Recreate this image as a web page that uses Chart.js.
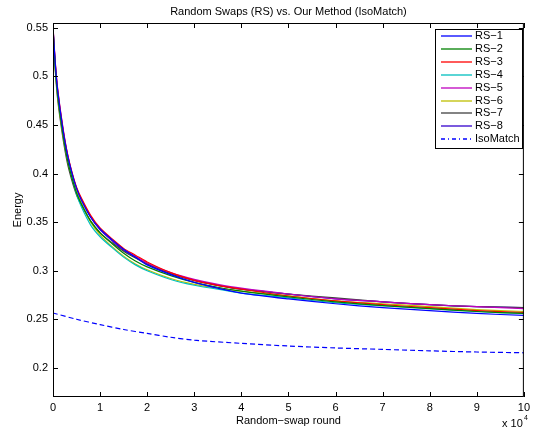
<!DOCTYPE html>
<html>
<head>
<meta charset="utf-8">
<script src="https://cdn.jsdelivr.net/npm/chart.js@4.4.0/dist/chart.umd.min.js"></script>
<style>
  html, body { margin: 0; padding: 0; background: #fff; }
  #wrap { width: 534px; height: 431px; }
</style>
</head>
<body>
<div id="wrap"><canvas id="energyChart" width="534" height="431"></canvas></div>
<script>
// rounds (x 10^4)
const rounds = [0, 0.05, 0.1, 0.2, 0.3, 0.4, 0.5, 0.6, 0.8, 1, 1.25, 1.5, 1.75, 2, 2.5, 3, 3.5, 4, 5, 6, 7, 8, 9, 10];
const rs1 = [0.550, 0.512, 0.485, 0.449, 0.421, 0.401, 0.385, 0.373, 0.355, 0.343, 0.332, 0.322, 0.314, 0.306, 0.296, 0.288, 0.282, 0.277, 0.271, 0.266, 0.262, 0.259, 0.256, 0.254];
const rs2 = [0.548, 0.508, 0.480, 0.444, 0.416, 0.396, 0.380, 0.369, 0.351, 0.339, 0.328, 0.318, 0.310, 0.304, 0.295, 0.288, 0.283, 0.279, 0.273, 0.268, 0.264, 0.261, 0.258, 0.256];
const rs3 = [0.551, 0.513, 0.486, 0.450, 0.422, 0.402, 0.386, 0.375, 0.357, 0.344, 0.333, 0.323, 0.316, 0.309, 0.298, 0.290, 0.285, 0.281, 0.274, 0.269, 0.265, 0.262, 0.259, 0.257];
const rs4 = [0.549, 0.510, 0.482, 0.446, 0.418, 0.397, 0.379, 0.366, 0.347, 0.335, 0.324, 0.314, 0.306, 0.300, 0.291, 0.285, 0.281, 0.277, 0.272, 0.267, 0.264, 0.261, 0.258, 0.256];
const rs5 = [0.552, 0.514, 0.487, 0.451, 0.422, 0.401, 0.385, 0.374, 0.356, 0.343, 0.332, 0.322, 0.315, 0.308, 0.298, 0.291, 0.286, 0.282, 0.276, 0.271, 0.268, 0.265, 0.263, 0.261];
const rs6 = [0.548, 0.507, 0.478, 0.443, 0.416, 0.397, 0.382, 0.370, 0.350, 0.337, 0.325, 0.315, 0.307, 0.301, 0.292, 0.286, 0.282, 0.279, 0.274, 0.269, 0.266, 0.263, 0.260, 0.258];
const rs7 = [0.547, 0.505, 0.476, 0.440, 0.412, 0.393, 0.378, 0.368, 0.351, 0.339, 0.329, 0.320, 0.313, 0.307, 0.297, 0.290, 0.285, 0.281, 0.276, 0.272, 0.268, 0.265, 0.263, 0.262];
const rs8 = [0.550, 0.511, 0.484, 0.448, 0.420, 0.400, 0.384, 0.373, 0.355, 0.342, 0.331, 0.321, 0.314, 0.307, 0.297, 0.290, 0.285, 0.281, 0.276, 0.271, 0.268, 0.265, 0.263, 0.262];

const isoRounds = [0, 0.5, 1, 1.5, 2, 2.5, 3, 4, 5, 6, 7, 8, 9, 10];
const isoMatch = [0.2565, 0.250, 0.2445, 0.2395, 0.2355, 0.2315, 0.2285, 0.2252, 0.2225, 0.2205, 0.219, 0.2175, 0.2163, 0.2155];

const seriesNames = ['RS\u22121', 'RS\u22122', 'RS\u22123', 'RS\u22124', 'RS\u22125', 'RS\u22126', 'RS\u22127', 'RS\u22128'];
const seriesData = [rs1, rs2, rs3, rs4, rs5, rs6, rs7, rs8];
const seriesColors = ['#0000ff', '#008000', '#ff0000', '#00bfbf', '#bf00bf', '#bfbf00', '#404040', '#3300cc'];

const xTicks = [0, 1, 2, 3, 4, 5, 6, 7, 8, 9, 10];
const yTicks = [0.2, 0.25, 0.3, 0.35, 0.4, 0.45, 0.5, 0.55];
const chartTitle = 'Random Swaps (RS) vs. Our Method (IsoMatch)';

const FONT = 'Liberation Sans, Arial, Helvetica, sans-serif';

function toPoints(xs, ys) {
    return xs.map((x, i) => ({ x: x, y: ys[i] }));
}

let datasets = seriesData.map((d, i) => ({
    label: seriesNames[i],
    data: toPoints(rounds, d),
    borderColor: seriesColors[i],
    borderWidth: 1.2,
    pointRadius: 0,
    tension: 0.3,
    fill: false
}));
datasets.push({
    label: 'IsoMatch',
    data: toPoints(isoRounds, isoMatch),
    borderColor: '#0000ff',
    borderWidth: 1.2,
    borderDash: [5, 3],
    pointRadius: 0,
    tension: 0.3,
    fill: false
});

// box, inward ticks, title, legend, exponent label
const matlabFrame = {
    id: 'matlabFrame',
    afterDatasetsDraw(chart) {
        const ctx = chart.ctx;
        const a = chart.chartArea;
        const xs = chart.scales.x, ys = chart.scales.y;
        ctx.save();
        ctx.strokeStyle = '#000';
        ctx.lineWidth = 1;
        ctx.strokeRect(a.left + 0.5, a.top + 0.5, a.right - a.left - 1, a.bottom - a.top - 1);
        ctx.beginPath();
        xTicks.forEach(v => {
            const px = Math.round(xs.getPixelForValue(v)) + 0.5;
            ctx.moveTo(px, a.bottom); ctx.lineTo(px, a.bottom - 5);
            ctx.moveTo(px, a.top); ctx.lineTo(px, a.top + 5);
        });
        yTicks.forEach(v => {
            const py = Math.round(ys.getPixelForValue(v)) + 0.5;
            ctx.moveTo(a.left, py); ctx.lineTo(a.left + 5, py);
            ctx.moveTo(a.right, py); ctx.lineTo(a.right - 5, py);
        });
        ctx.stroke();

        // title centred over the plot box
        ctx.fillStyle = '#000';
        ctx.font = '11px ' + FONT;
        ctx.textAlign = 'center';
        ctx.textBaseline = 'middle';
        ctx.fillText(chartTitle, (a.left + a.right) / 2, 12);

        // legend
        const lx = 435, ly = 29, lw = 87, lh = 119;
        ctx.fillStyle = '#fff';
        ctx.fillRect(lx, ly, lw, lh);
        ctx.strokeStyle = '#000';
        ctx.lineWidth = 1;
        ctx.strokeRect(lx + 0.5, ly + 0.5, lw, lh);
        ctx.font = '11px ' + FONT;
        ctx.textAlign = 'left';
        chart.data.datasets.forEach((ds, i) => {
            const y = Math.round(ly + 7 + i * 12.9);
            ctx.strokeStyle = ds.borderColor;
            ctx.lineWidth = 1.3;
            ctx.setLineDash(ds.borderDash ? [4, 3, 1, 3] : []);
            ctx.beginPath();
            ctx.moveTo(441, y); ctx.lineTo(472, y);
            ctx.stroke();
            ctx.fillStyle = '#000';
            ctx.fillText(ds.label, 475, y);
        });
        ctx.setLineDash([]);

        // x 10^4
        ctx.fillStyle = '#000';
        ctx.font = '11px ' + FONT;
        ctx.fillText('x 10', 502, 424);
        ctx.font = '7px ' + FONT;
        ctx.fillText('4', 524, 418);
        ctx.restore();
    }
};

new Chart(document.getElementById('energyChart'), {
    type: 'line',
    data: { datasets: datasets },
    options: {
        responsive: false,
        animation: false,
        layout: { padding: { left: 0, right: 8, top: 23, bottom: 0 } },
        plugins: {
            legend: { display: false },
            tooltip: { enabled: false },
            title: { display: false }
        },
        scales: {
            x: {
                type: 'linear',
                min: 0,
                max: 10,
                afterBuildTicks: s => { s.ticks = xTicks.map(v => ({ value: v })); },
                afterFit: s => { s.height = 34; },
                grid: { display: true, drawOnChartArea: false, drawTicks: false },
                border: { display: false },
                ticks: { color: '#000', padding: 4, font: { family: FONT, size: 11 }, maxRotation: 0 },
                title: {
                    display: true,
                    text: 'Random\u2212swap round',
                    color: '#000',
                    font: { family: FONT, size: 11 },
                    padding: { top: 0, bottom: 3 }
                }
            },
            y: {
                type: 'linear',
                min: 0.17,
                max: 0.555,
                afterBuildTicks: s => { s.ticks = yTicks.map(v => ({ value: v })); },
                afterFit: s => { s.width = 53; },
                grid: { display: true, drawOnChartArea: false, drawTicks: false },
                border: { display: false },
                ticks: {
                    color: '#000',
                    padding: 5,
                    font: { family: FONT, size: 11 },
                    callback: v => String(+v.toFixed(2))
                },
                title: {
                    display: true,
                    text: 'Energy',
                    color: '#000',
                    font: { family: FONT, size: 11 },
                    padding: { top: 11, bottom: 0 }
                }
            }
        }
    },
    plugins: [matlabFrame]
});
</script>
</body>
</html>
